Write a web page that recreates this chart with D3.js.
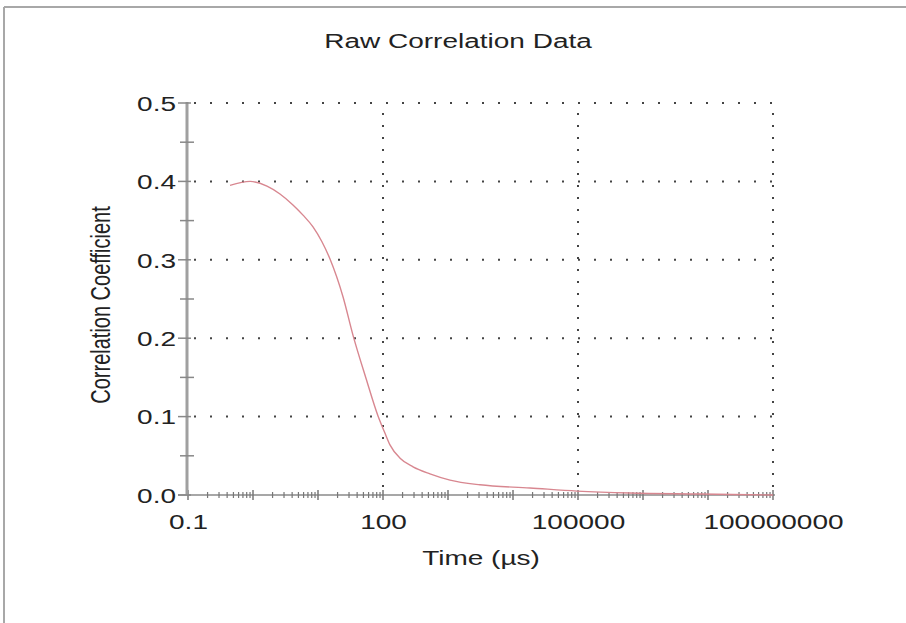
<!DOCTYPE html>
<html>
<head>
<meta charset="utf-8">
<script src="https://cdn.jsdelivr.net/npm/d3@7/dist/d3.min.js"></script>
<style>
  html, body { margin: 0; padding: 0; background: #fff; }
  svg { display: block; }
  text { font-family: "Liberation Sans", Arial, sans-serif; fill: #222; }
</style>
</head>
<body>
<svg id="chart" width="906" height="623"></svg>
<script>
// ---- data ----
const times = [0.443, 0.90, 1.64, 2.60, 4.12, 5.88, 8.38, 11.5, 15.3, 24.3, 34.5, 54.7, 83.8, 107, 128, 183, 290, 528, 1074, 3105, 18280, 96600, 631000, 7.5e6, 1.0e8];
const corr  = [0.395, 0.400, 0.394, 0.384, 0.370, 0.357, 0.342, 0.323, 0.301, 0.2526, 0.204, 0.149, 0.1008, 0.079, 0.064, 0.047, 0.036, 0.027, 0.019, 0.013, 0.009, 0.005, 0.0025, 0.0013, 0.000];
const xTickValues = [0.1, 100, 100000, 100000000];
const xTickLabels = ["0.1", "100", "100000", "100000000"];
const yTickValues = [0.0, 0.1, 0.2, 0.3, 0.4, 0.5];
const yTickLabels = ["0.0", "0.1", "0.2", "0.3", "0.4", "0.5"];
const yMinorValues = [0.05, 0.15, 0.25, 0.35, 0.45];
const title = "Raw Correlation Data";
const xTitle = "Time (\u00b5s)";
const yTitle = "Correlation Coefficient";

// ---- layout ----
const SX = 1.4; // horizontal stretch of text in the reference
const pL = 188, pR = 773, pT = 103, pB = 495;
const svg = d3.select("#chart");

// frame
svg.append("line").attr("x1", 4).attr("x2", 906).attr("y1", 7).attr("y2", 7)
  .attr("stroke", "#a8a8a8").attr("stroke-width", 2);
svg.append("line").attr("x1", 4).attr("x2", 4).attr("y1", 7).attr("y2", 623)
  .attr("stroke", "#a8a8a8").attr("stroke-width", 2);

const x = d3.scaleLog().domain([0.1, 1e8]).range([pL, pR]);
const y = d3.scaleLinear().domain([0, 0.5]).range([pB, pT]);

// minor x ticks (log multiples)
const xMinor = [];
for (let e = -1; e < 8; e++) for (let m = 2; m <= 9; m++) xMinor.push(m * Math.pow(10, e));
const xDecades = [];
for (let e = -1; e <= 8; e++) xDecades.push(Math.pow(10, e));

// grid
const grid = svg.append("g");
grid.selectAll("line.h").data(yTickValues.filter(d => d > 0)).join("line")
  .attr("x1", pL).attr("x2", pR)
  .attr("y1", d => y(d)).attr("y2", d => y(d))
  .attr("stroke", "#444").attr("stroke-width", 2)
  .attr("stroke-dasharray", "2,14").attr("stroke-dashoffset", -6);
grid.selectAll("line.v").data(xTickValues.filter(d => d > 0.1)).join("line")
  .attr("x1", d => x(d)).attr("x2", d => x(d))
  .attr("y1", pB).attr("y2", pT)
  .attr("stroke", "#444").attr("stroke-width", 2)
  .attr("stroke-dasharray", "2,10").attr("stroke-dashoffset", -8);

// x axis
const xAxisG = svg.append("g").attr("transform", `translate(0,${pB})`);
xAxisG.append("line").attr("x1", pL - 10).attr("x2", pR + 2).attr("y1", 0).attr("y2", 0)
  .attr("stroke", "#8a8a8a").attr("stroke-width", 1.5);
xAxisG.selectAll("line.minor").data(xMinor).join("line")
  .attr("x1", d => x(d)).attr("x2", d => x(d)).attr("y1", -3).attr("y2", 3)
  .attr("stroke", "#777").attr("stroke-width", 1.2);
xAxisG.selectAll("line.dec").data(xDecades).join("line")
  .attr("x1", d => x(d)).attr("x2", d => x(d)).attr("y1", -5).attr("y2", 5)
  .attr("stroke", "#777").attr("stroke-width", 1.5);
const xAxis = d3.axisBottom(x).tickValues(xTickValues)
  .tickFormat((d, i) => xTickLabels[i]).tickSize(0).tickPadding(0);
const xLab = svg.append("g").attr("transform", `translate(0,${pB})`).call(xAxis);
xLab.select(".domain").remove();
xLab.selectAll("text")
  .attr("y", 34).attr("dy", null)
  .attr("transform", `scale(${SX},1)`)
  .style("font-size", "20px").style("fill", "#222");

// y axis
const yAxisG = svg.append("g").attr("transform", `translate(${pL - 1},0)`);
yAxisG.append("line").attr("x1", 0).attr("x2", 0).attr("y1", pB).attr("y2", pT - 1)
  .attr("stroke", "#a0a0a0").attr("stroke-width", 3);
yAxisG.selectAll("line.minor").data(yMinorValues).join("line")
  .attr("x1", -7).attr("x2", 7).attr("y1", d => y(d)).attr("y2", d => y(d))
  .attr("stroke", "#888").attr("stroke-width", 1.5);
yAxisG.selectAll("line.major").data(yTickValues).join("line")
  .attr("x1", -9).attr("x2", 4).attr("y1", d => y(d)).attr("y2", d => y(d))
  .attr("stroke", "#888").attr("stroke-width", 1.5);
const yAxis = d3.axisLeft(y).tickValues(yTickValues)
  .tickFormat((d, i) => yTickLabels[i]).tickSize(0).tickPadding(0);
const yLab = svg.append("g").attr("transform", `translate(${pL},0)`).call(yAxis);
yLab.select(".domain").remove();
yLab.selectAll("text")
  .attr("x", -12 / SX).attr("dy", "0.36em")
  .attr("transform", `scale(${SX},1)`)
  .style("font-size", "20px").style("fill", "#222");

// data line
const line = d3.line().x((d, i) => x(times[i])).y((d, i) => y(corr[i])).curve(d3.curveMonotoneX);
svg.append("path").datum(corr).attr("d", line)
  .attr("fill", "none").attr("stroke", "#d88790").attr("stroke-width", 1.4);

// titles
svg.append("text").attr("transform", `translate(458,48) scale(${SX},1)`)
  .attr("text-anchor", "middle").style("font-size", "20px").text(title);
svg.append("text").attr("transform", `translate(481,565) scale(${SX},1)`)
  .attr("text-anchor", "middle").style("font-size", "20px").text(xTitle);
svg.append("text").attr("transform", `translate(110,305) scale(${SX},1) rotate(-90)`)
  .attr("text-anchor", "middle").style("font-size", "20px").text(yTitle);
</script>
</body>
</html>
